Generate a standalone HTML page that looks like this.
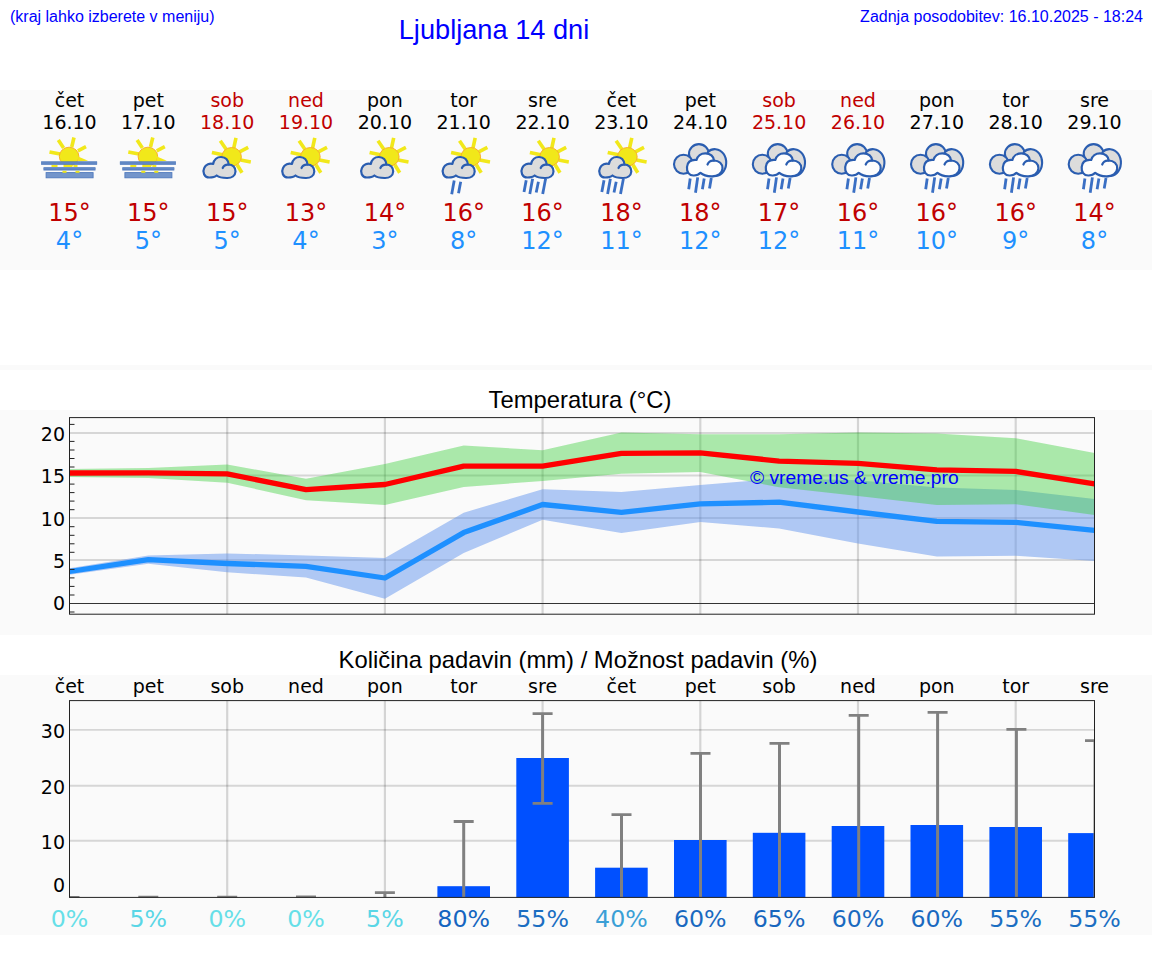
<!DOCTYPE html>
<html><head><meta charset="utf-8"><title>Ljubljana 14 dni</title>
<style>
html,body{margin:0;padding:0;background:#fff;}
body{width:1152px;height:975px;position:relative;overflow:hidden;font-family:"Liberation Sans",sans-serif;}
.t{position:absolute;white-space:nowrap;line-height:1;}
.b{color:#0000ff;}
svg text{font-family:"DejaVu Sans","Liberation Sans",sans-serif;}
</style></head><body>
<svg width="1152" height="975" viewBox="0 0 1152 975" style="position:absolute;left:0;top:0"><rect x="0" y="90" width="1152" height="180" fill="#fafafa"/>
<rect x="0" y="365" width="1152" height="5" fill="#fafafa"/>
<rect x="0" y="410" width="1152" height="225" fill="#fafafa"/>
<rect x="0" y="675" width="1152" height="260" fill="#fafafa"/>
<g font-size="19" text-anchor="middle" fill="#000">
<text x="69.5" y="106.8">čet</text><text x="69.5" y="128.8">16.10</text>
<text x="148.3" y="106.8">pet</text><text x="148.3" y="128.8">17.10</text>
<text x="227.2" y="106.8" fill="#c00000">sob</text><text x="227.2" y="128.8" fill="#c00000">18.10</text>
<text x="306.0" y="106.8" fill="#c00000">ned</text><text x="306.0" y="128.8" fill="#c00000">19.10</text>
<text x="384.9" y="106.8">pon</text><text x="384.9" y="128.8">20.10</text>
<text x="463.7" y="106.8">tor</text><text x="463.7" y="128.8">21.10</text>
<text x="542.6" y="106.8">sre</text><text x="542.6" y="128.8">22.10</text>
<text x="621.4" y="106.8">čet</text><text x="621.4" y="128.8">23.10</text>
<text x="700.3" y="106.8">pet</text><text x="700.3" y="128.8">24.10</text>
<text x="779.1" y="106.8" fill="#c00000">sob</text><text x="779.1" y="128.8" fill="#c00000">25.10</text>
<text x="858.0" y="106.8" fill="#c00000">ned</text><text x="858.0" y="128.8" fill="#c00000">26.10</text>
<text x="936.8" y="106.8">pon</text><text x="936.8" y="128.8">27.10</text>
<text x="1015.7" y="106.8">tor</text><text x="1015.7" y="128.8">28.10</text>
<text x="1094.5" y="106.8">sre</text><text x="1094.5" y="128.8">29.10</text>
</g>
<g font-size="24" text-anchor="middle" fill="#c00000">
<text x="69.5" y="221.3">15°</text>
<text x="148.3" y="221.3">15°</text>
<text x="227.2" y="221.3">15°</text>
<text x="306.0" y="221.3">13°</text>
<text x="384.9" y="221.3">14°</text>
<text x="463.7" y="221.3">16°</text>
<text x="542.6" y="221.3">16°</text>
<text x="621.4" y="221.3">18°</text>
<text x="700.3" y="221.3">18°</text>
<text x="779.1" y="221.3">17°</text>
<text x="858.0" y="221.3">16°</text>
<text x="936.8" y="221.3">16°</text>
<text x="1015.7" y="221.3">16°</text>
<text x="1094.5" y="221.3">14°</text>
</g>
<g font-size="24" text-anchor="middle" fill="#1e90ff">
<text x="69.5" y="249">4°</text>
<text x="148.3" y="249">5°</text>
<text x="227.2" y="249">5°</text>
<text x="306.0" y="249">4°</text>
<text x="384.9" y="249">3°</text>
<text x="463.7" y="249">8°</text>
<text x="542.6" y="249">12°</text>
<text x="621.4" y="249">11°</text>
<text x="700.3" y="249">12°</text>
<text x="779.1" y="249">12°</text>
<text x="858.0" y="249">11°</text>
<text x="936.8" y="249">10°</text>
<text x="1015.7" y="249">9°</text>
<text x="1094.5" y="249">8°</text>
</g>
<line x1="49.5" y1="151.9" x2="60.1" y2="154.0" stroke="#f1e81a" stroke-width="3.6"/><line x1="58.3" y1="139.9" x2="63.6" y2="148.0" stroke="#f1e81a" stroke-width="3.6"/><line x1="74.0" y1="137.5" x2="71.7" y2="147.0" stroke="#f1e81a" stroke-width="3.6"/><line x1="86.0" y1="146.7" x2="77.9" y2="150.8" stroke="#f1e81a" stroke-width="3.6"/><ellipse cx="69.1" cy="156.5" rx="9.8" ry="9.3" fill="#f1e81a" stroke="#f7a823" stroke-width="0.9"/><polygon points="78.1,156.5 88.1,160.8 78.1,161.5" fill="#f1e81a"/><rect x="41.1" y="161.3" width="56" height="3.5" fill="#4f79bd"/><rect x="41.1" y="162.4" width="56" height="1.2" fill="#6d90c8"/><rect x="43.5" y="167.2" width="52" height="3.3" fill="#4f79bd"/><rect x="43.5" y="168.3" width="52" height="1.1" fill="#6d90c8"/><rect x="46.1" y="172.6" width="47" height="5.2" fill="#7395cb" stroke="#4f79bd" stroke-width="0.9"/><rect x="51.5" y="165.0" width="6.0" height="2" fill="#f1e81a"/><rect x="63.5" y="165.0" width="9.0" height="2" fill="#f1e81a"/><rect x="73.5" y="165.0" width="4.0" height="2" fill="#f1e81a"/><rect x="62.5" y="170.8" width="4.0" height="2" fill="#f1e81a"/><rect x="75.5" y="170.8" width="4.0" height="2" fill="#f1e81a"/>
<line x1="128.3" y1="151.9" x2="138.9" y2="154.0" stroke="#f1e81a" stroke-width="3.6"/><line x1="137.1" y1="139.9" x2="142.4" y2="148.0" stroke="#f1e81a" stroke-width="3.6"/><line x1="152.8" y1="137.5" x2="150.5" y2="147.0" stroke="#f1e81a" stroke-width="3.6"/><line x1="164.8" y1="146.7" x2="156.7" y2="150.8" stroke="#f1e81a" stroke-width="3.6"/><ellipse cx="147.9" cy="156.5" rx="9.8" ry="9.3" fill="#f1e81a" stroke="#f7a823" stroke-width="0.9"/><polygon points="156.9,156.5 166.9,160.8 156.9,161.5" fill="#f1e81a"/><rect x="119.9" y="161.3" width="56" height="3.5" fill="#4f79bd"/><rect x="119.9" y="162.4" width="56" height="1.2" fill="#6d90c8"/><rect x="122.3" y="167.2" width="52" height="3.3" fill="#4f79bd"/><rect x="122.3" y="168.3" width="52" height="1.1" fill="#6d90c8"/><rect x="124.9" y="172.6" width="47" height="5.2" fill="#7395cb" stroke="#4f79bd" stroke-width="0.9"/><rect x="130.3" y="165.0" width="6.0" height="2" fill="#f1e81a"/><rect x="142.3" y="165.0" width="9.0" height="2" fill="#f1e81a"/><rect x="152.3" y="165.0" width="4.0" height="2" fill="#f1e81a"/><rect x="141.3" y="170.8" width="4.0" height="2" fill="#f1e81a"/><rect x="154.3" y="170.8" width="4.0" height="2" fill="#f1e81a"/>
<line x1="211.9" y1="152.4" x2="222.6" y2="154.8" stroke="#f1e81a" stroke-width="3.6"/><line x1="220.3" y1="140.8" x2="226.1" y2="149.3" stroke="#f1e81a" stroke-width="3.6"/><line x1="236.0" y1="137.8" x2="233.8" y2="147.8" stroke="#f1e81a" stroke-width="3.6"/><line x1="248.2" y1="147.4" x2="239.6" y2="151.8" stroke="#f1e81a" stroke-width="3.6"/><line x1="250.8" y1="162.0" x2="240.6" y2="160.1" stroke="#f1e81a" stroke-width="3.6"/><line x1="242.0" y1="172.8" x2="237.1" y2="164.8" stroke="#f1e81a" stroke-width="3.6"/><ellipse cx="231.6" cy="156.8" rx="9.8" ry="9.3" fill="#f1e81a" stroke="#f7a823" stroke-width="0.9"/><g transform="translate(202.7,156.0)"><path d="M6.5,21.5 C1.5,21.5 -0.5,16 1.5,12 C3,8.5 7,7 10.5,8 C11,3.5 14.5,0.8 18.5,1 C22.5,1.2 25.5,4 26,8.5 C30,8.5 33,11.5 32.8,15.5 C32.6,19.8 29,22.2 24,22 C20,22 16.5,21.5 14,19.5 C12,21.3 9.5,21.5 6.5,21.5 Z" fill="#dcdcdc" stroke="#2a5db0" stroke-width="2.2" stroke-linejoin="round"/><path d="M26,8.6 C23.5,8.4 21,9.6 20,12" fill="none" stroke="#2a5db0" stroke-width="2.2" stroke-linecap="round"/></g>
<line x1="290.7" y1="152.4" x2="301.4" y2="154.8" stroke="#f1e81a" stroke-width="3.6"/><line x1="299.1" y1="140.8" x2="304.9" y2="149.3" stroke="#f1e81a" stroke-width="3.6"/><line x1="314.8" y1="137.8" x2="312.6" y2="147.8" stroke="#f1e81a" stroke-width="3.6"/><line x1="327.0" y1="147.4" x2="318.4" y2="151.8" stroke="#f1e81a" stroke-width="3.6"/><line x1="329.6" y1="162.0" x2="319.4" y2="160.1" stroke="#f1e81a" stroke-width="3.6"/><line x1="320.8" y1="172.8" x2="315.9" y2="164.8" stroke="#f1e81a" stroke-width="3.6"/><ellipse cx="310.4" cy="156.8" rx="9.8" ry="9.3" fill="#f1e81a" stroke="#f7a823" stroke-width="0.9"/><g transform="translate(281.5,156.0)"><path d="M6.5,21.5 C1.5,21.5 -0.5,16 1.5,12 C3,8.5 7,7 10.5,8 C11,3.5 14.5,0.8 18.5,1 C22.5,1.2 25.5,4 26,8.5 C30,8.5 33,11.5 32.8,15.5 C32.6,19.8 29,22.2 24,22 C20,22 16.5,21.5 14,19.5 C12,21.3 9.5,21.5 6.5,21.5 Z" fill="#dcdcdc" stroke="#2a5db0" stroke-width="2.2" stroke-linejoin="round"/><path d="M26,8.6 C23.5,8.4 21,9.6 20,12" fill="none" stroke="#2a5db0" stroke-width="2.2" stroke-linecap="round"/></g>
<line x1="369.6" y1="152.4" x2="380.3" y2="154.8" stroke="#f1e81a" stroke-width="3.6"/><line x1="378.0" y1="140.8" x2="383.8" y2="149.3" stroke="#f1e81a" stroke-width="3.6"/><line x1="393.7" y1="137.8" x2="391.5" y2="147.8" stroke="#f1e81a" stroke-width="3.6"/><line x1="405.9" y1="147.4" x2="397.3" y2="151.8" stroke="#f1e81a" stroke-width="3.6"/><line x1="408.5" y1="162.0" x2="398.3" y2="160.1" stroke="#f1e81a" stroke-width="3.6"/><line x1="399.7" y1="172.8" x2="394.8" y2="164.8" stroke="#f1e81a" stroke-width="3.6"/><ellipse cx="389.3" cy="156.8" rx="9.8" ry="9.3" fill="#f1e81a" stroke="#f7a823" stroke-width="0.9"/><g transform="translate(360.4,156.0)"><path d="M6.5,21.5 C1.5,21.5 -0.5,16 1.5,12 C3,8.5 7,7 10.5,8 C11,3.5 14.5,0.8 18.5,1 C22.5,1.2 25.5,4 26,8.5 C30,8.5 33,11.5 32.8,15.5 C32.6,19.8 29,22.2 24,22 C20,22 16.5,21.5 14,19.5 C12,21.3 9.5,21.5 6.5,21.5 Z" fill="#dcdcdc" stroke="#2a5db0" stroke-width="2.2" stroke-linejoin="round"/><path d="M26,8.6 C23.5,8.4 21,9.6 20,12" fill="none" stroke="#2a5db0" stroke-width="2.2" stroke-linecap="round"/></g>
<line x1="451.1" y1="152.4" x2="461.8" y2="154.8" stroke="#f1e81a" stroke-width="3.6"/><line x1="459.5" y1="140.8" x2="465.3" y2="149.3" stroke="#f1e81a" stroke-width="3.6"/><line x1="475.2" y1="137.8" x2="473.0" y2="147.8" stroke="#f1e81a" stroke-width="3.6"/><line x1="487.4" y1="147.4" x2="478.8" y2="151.8" stroke="#f1e81a" stroke-width="3.6"/><line x1="490.0" y1="162.0" x2="479.8" y2="160.1" stroke="#f1e81a" stroke-width="3.6"/><line x1="481.2" y1="172.8" x2="476.3" y2="164.8" stroke="#f1e81a" stroke-width="3.6"/><ellipse cx="470.8" cy="156.8" rx="9.8" ry="9.3" fill="#f1e81a" stroke="#f7a823" stroke-width="0.9"/><g transform="translate(441.9,156.0)"><path d="M6.5,21.5 C1.5,21.5 -0.5,16 1.5,12 C3,8.5 7,7 10.5,8 C11,3.5 14.5,0.8 18.5,1 C22.5,1.2 25.5,4 26,8.5 C30,8.5 33,11.5 32.8,15.5 C32.6,19.8 29,22.2 24,22 C20,22 16.5,21.5 14,19.5 C12,21.3 9.5,21.5 6.5,21.5 Z" fill="#dcdcdc" stroke="#2a5db0" stroke-width="2.2" stroke-linejoin="round"/><path d="M26,8.6 C23.5,8.4 21,9.6 20,12" fill="none" stroke="#2a5db0" stroke-width="2.2" stroke-linecap="round"/></g><line x1="454.2" y1="180.6" x2="451.7" y2="194.3" stroke="#3a6fc4" stroke-width="2.8"/><line x1="460.7" y1="181.7" x2="458.5" y2="193.2" stroke="#3a6fc4" stroke-width="2.8"/>
<line x1="529.9" y1="152.4" x2="540.6" y2="154.8" stroke="#f1e81a" stroke-width="3.6"/><line x1="538.3" y1="140.8" x2="544.1" y2="149.3" stroke="#f1e81a" stroke-width="3.6"/><line x1="554.0" y1="137.8" x2="551.8" y2="147.8" stroke="#f1e81a" stroke-width="3.6"/><line x1="566.2" y1="147.4" x2="557.6" y2="151.8" stroke="#f1e81a" stroke-width="3.6"/><line x1="568.8" y1="162.0" x2="558.6" y2="160.1" stroke="#f1e81a" stroke-width="3.6"/><line x1="560.0" y1="172.8" x2="555.1" y2="164.8" stroke="#f1e81a" stroke-width="3.6"/><ellipse cx="549.6" cy="156.8" rx="9.8" ry="9.3" fill="#f1e81a" stroke="#f7a823" stroke-width="0.9"/><g transform="translate(520.7,156.0)"><path d="M6.5,21.5 C1.5,21.5 -0.5,16 1.5,12 C3,8.5 7,7 10.5,8 C11,3.5 14.5,0.8 18.5,1 C22.5,1.2 25.5,4 26,8.5 C30,8.5 33,11.5 32.8,15.5 C32.6,19.8 29,22.2 24,22 C20,22 16.5,21.5 14,19.5 C12,21.3 9.5,21.5 6.5,21.5 Z" fill="#dcdcdc" stroke="#2a5db0" stroke-width="2.2" stroke-linejoin="round"/><path d="M26,8.6 C23.5,8.4 21,9.6 20,12" fill="none" stroke="#2a5db0" stroke-width="2.2" stroke-linecap="round"/></g><line x1="526.2" y1="180.3" x2="524.0" y2="192.1" stroke="#3a6fc4" stroke-width="2.8"/><line x1="532.6" y1="178.8" x2="529.8" y2="193.9" stroke="#3a6fc4" stroke-width="2.8"/><line x1="538.4" y1="181.7" x2="536.2" y2="192.5" stroke="#3a6fc4" stroke-width="2.8"/><line x1="545.6" y1="178.8" x2="542.7" y2="193.9" stroke="#3a6fc4" stroke-width="2.8"/>
<line x1="607.7" y1="152.4" x2="618.4" y2="154.8" stroke="#f1e81a" stroke-width="3.6"/><line x1="616.1" y1="140.8" x2="621.9" y2="149.3" stroke="#f1e81a" stroke-width="3.6"/><line x1="631.8" y1="137.8" x2="629.6" y2="147.8" stroke="#f1e81a" stroke-width="3.6"/><line x1="644.0" y1="147.4" x2="635.4" y2="151.8" stroke="#f1e81a" stroke-width="3.6"/><line x1="646.6" y1="162.0" x2="636.4" y2="160.1" stroke="#f1e81a" stroke-width="3.6"/><line x1="637.8" y1="172.8" x2="632.9" y2="164.8" stroke="#f1e81a" stroke-width="3.6"/><ellipse cx="627.4" cy="156.8" rx="9.8" ry="9.3" fill="#f1e81a" stroke="#f7a823" stroke-width="0.9"/><g transform="translate(598.5,156.0)"><path d="M6.5,21.5 C1.5,21.5 -0.5,16 1.5,12 C3,8.5 7,7 10.5,8 C11,3.5 14.5,0.8 18.5,1 C22.5,1.2 25.5,4 26,8.5 C30,8.5 33,11.5 32.8,15.5 C32.6,19.8 29,22.2 24,22 C20,22 16.5,21.5 14,19.5 C12,21.3 9.5,21.5 6.5,21.5 Z" fill="#dcdcdc" stroke="#2a5db0" stroke-width="2.2" stroke-linejoin="round"/><path d="M26,8.6 C23.5,8.4 21,9.6 20,12" fill="none" stroke="#2a5db0" stroke-width="2.2" stroke-linecap="round"/></g><line x1="604.0" y1="180.3" x2="601.8" y2="192.1" stroke="#3a6fc4" stroke-width="2.8"/><line x1="610.4" y1="178.8" x2="607.6" y2="193.9" stroke="#3a6fc4" stroke-width="2.8"/><line x1="616.2" y1="181.7" x2="614.0" y2="192.5" stroke="#3a6fc4" stroke-width="2.8"/><line x1="623.4" y1="178.8" x2="620.5" y2="193.9" stroke="#3a6fc4" stroke-width="2.8"/>
<g transform="translate(-0.0,0)"><ellipse cx="698.9" cy="153.7" rx="9.9" ry="9.6" fill="#dcdcdc" stroke="#2a5db0" stroke-width="2.1"/><ellipse cx="683.5" cy="164.2" rx="9.5" ry="9.5" fill="#dcdcdc" stroke="#2a5db0" stroke-width="2.1"/><path d="M708,152 C712,147.6 719.5,148.4 723.4,153.6 C727.5,159 727.2,168.2 722,173.3 C719,176 716,176.6 712,176.2 L700,170 Z" fill="#dcdcdc" stroke="#2a5db0" stroke-width="2.1" stroke-linejoin="round"/><path d="M694,175.5 C689,175.8 686.5,171.5 687,167 C687.5,162 691,159.5 696.5,160 C697.5,156 701,153.2 705.5,153.3 C710.5,153.5 713.5,156.5 714,160.5 C719,160.5 722.8,164 722.5,168.5 C722.2,173.5 717.5,176.5 711.5,176.3 C706.5,176.2 703,175 700.5,172.8 C699,174.5 696.8,175.4 694,175.5 Z" fill="#fdfdfd" stroke="#2a5db0" stroke-width="2.2" stroke-linejoin="round"/><path d="M714,160.6 C711,160.3 708.5,161.8 707.5,164.5" fill="none" stroke="#2a5db0" stroke-width="2.2" stroke-linecap="round"/><line x1="690.2" y1="178.5" x2="688.7" y2="189.2" stroke="#3a6fc4" stroke-width="2.8"/><line x1="697.7" y1="177.4" x2="695.5" y2="192.8" stroke="#3a6fc4" stroke-width="2.8"/><line x1="704.2" y1="178.5" x2="702.4" y2="189.2" stroke="#3a6fc4" stroke-width="2.8"/><line x1="711.3" y1="178.1" x2="709.5" y2="188.5" stroke="#3a6fc4" stroke-width="2.8"/></g>
<g transform="translate(78.8,0)"><ellipse cx="698.9" cy="153.7" rx="9.9" ry="9.6" fill="#dcdcdc" stroke="#2a5db0" stroke-width="2.1"/><ellipse cx="683.5" cy="164.2" rx="9.5" ry="9.5" fill="#dcdcdc" stroke="#2a5db0" stroke-width="2.1"/><path d="M708,152 C712,147.6 719.5,148.4 723.4,153.6 C727.5,159 727.2,168.2 722,173.3 C719,176 716,176.6 712,176.2 L700,170 Z" fill="#dcdcdc" stroke="#2a5db0" stroke-width="2.1" stroke-linejoin="round"/><path d="M694,175.5 C689,175.8 686.5,171.5 687,167 C687.5,162 691,159.5 696.5,160 C697.5,156 701,153.2 705.5,153.3 C710.5,153.5 713.5,156.5 714,160.5 C719,160.5 722.8,164 722.5,168.5 C722.2,173.5 717.5,176.5 711.5,176.3 C706.5,176.2 703,175 700.5,172.8 C699,174.5 696.8,175.4 694,175.5 Z" fill="#fdfdfd" stroke="#2a5db0" stroke-width="2.2" stroke-linejoin="round"/><path d="M714,160.6 C711,160.3 708.5,161.8 707.5,164.5" fill="none" stroke="#2a5db0" stroke-width="2.2" stroke-linecap="round"/><line x1="690.2" y1="178.5" x2="688.7" y2="189.2" stroke="#3a6fc4" stroke-width="2.8"/><line x1="697.7" y1="177.4" x2="695.5" y2="192.8" stroke="#3a6fc4" stroke-width="2.8"/><line x1="704.2" y1="178.5" x2="702.4" y2="189.2" stroke="#3a6fc4" stroke-width="2.8"/><line x1="711.3" y1="178.1" x2="709.5" y2="188.5" stroke="#3a6fc4" stroke-width="2.8"/></g>
<g transform="translate(158.2,0)"><ellipse cx="698.9" cy="153.7" rx="9.9" ry="9.6" fill="#dcdcdc" stroke="#2a5db0" stroke-width="2.1"/><ellipse cx="683.5" cy="164.2" rx="9.5" ry="9.5" fill="#dcdcdc" stroke="#2a5db0" stroke-width="2.1"/><path d="M708,152 C712,147.6 719.5,148.4 723.4,153.6 C727.5,159 727.2,168.2 722,173.3 C719,176 716,176.6 712,176.2 L700,170 Z" fill="#dcdcdc" stroke="#2a5db0" stroke-width="2.1" stroke-linejoin="round"/><path d="M694,175.5 C689,175.8 686.5,171.5 687,167 C687.5,162 691,159.5 696.5,160 C697.5,156 701,153.2 705.5,153.3 C710.5,153.5 713.5,156.5 714,160.5 C719,160.5 722.8,164 722.5,168.5 C722.2,173.5 717.5,176.5 711.5,176.3 C706.5,176.2 703,175 700.5,172.8 C699,174.5 696.8,175.4 694,175.5 Z" fill="#fdfdfd" stroke="#2a5db0" stroke-width="2.2" stroke-linejoin="round"/><path d="M714,160.6 C711,160.3 708.5,161.8 707.5,164.5" fill="none" stroke="#2a5db0" stroke-width="2.2" stroke-linecap="round"/><line x1="690.2" y1="178.5" x2="688.7" y2="189.2" stroke="#3a6fc4" stroke-width="2.8"/><line x1="697.7" y1="177.4" x2="695.5" y2="192.8" stroke="#3a6fc4" stroke-width="2.8"/><line x1="704.2" y1="178.5" x2="702.4" y2="189.2" stroke="#3a6fc4" stroke-width="2.8"/><line x1="711.3" y1="178.1" x2="709.5" y2="188.5" stroke="#3a6fc4" stroke-width="2.8"/></g>
<g transform="translate(237.0,0)"><ellipse cx="698.9" cy="153.7" rx="9.9" ry="9.6" fill="#dcdcdc" stroke="#2a5db0" stroke-width="2.1"/><ellipse cx="683.5" cy="164.2" rx="9.5" ry="9.5" fill="#dcdcdc" stroke="#2a5db0" stroke-width="2.1"/><path d="M708,152 C712,147.6 719.5,148.4 723.4,153.6 C727.5,159 727.2,168.2 722,173.3 C719,176 716,176.6 712,176.2 L700,170 Z" fill="#dcdcdc" stroke="#2a5db0" stroke-width="2.1" stroke-linejoin="round"/><path d="M694,175.5 C689,175.8 686.5,171.5 687,167 C687.5,162 691,159.5 696.5,160 C697.5,156 701,153.2 705.5,153.3 C710.5,153.5 713.5,156.5 714,160.5 C719,160.5 722.8,164 722.5,168.5 C722.2,173.5 717.5,176.5 711.5,176.3 C706.5,176.2 703,175 700.5,172.8 C699,174.5 696.8,175.4 694,175.5 Z" fill="#fdfdfd" stroke="#2a5db0" stroke-width="2.2" stroke-linejoin="round"/><path d="M714,160.6 C711,160.3 708.5,161.8 707.5,164.5" fill="none" stroke="#2a5db0" stroke-width="2.2" stroke-linecap="round"/><line x1="690.2" y1="178.5" x2="688.7" y2="189.2" stroke="#3a6fc4" stroke-width="2.8"/><line x1="697.7" y1="177.4" x2="695.5" y2="192.8" stroke="#3a6fc4" stroke-width="2.8"/><line x1="704.2" y1="178.5" x2="702.4" y2="189.2" stroke="#3a6fc4" stroke-width="2.8"/><line x1="711.3" y1="178.1" x2="709.5" y2="188.5" stroke="#3a6fc4" stroke-width="2.8"/></g>
<g transform="translate(315.9,0)"><ellipse cx="698.9" cy="153.7" rx="9.9" ry="9.6" fill="#dcdcdc" stroke="#2a5db0" stroke-width="2.1"/><ellipse cx="683.5" cy="164.2" rx="9.5" ry="9.5" fill="#dcdcdc" stroke="#2a5db0" stroke-width="2.1"/><path d="M708,152 C712,147.6 719.5,148.4 723.4,153.6 C727.5,159 727.2,168.2 722,173.3 C719,176 716,176.6 712,176.2 L700,170 Z" fill="#dcdcdc" stroke="#2a5db0" stroke-width="2.1" stroke-linejoin="round"/><path d="M694,175.5 C689,175.8 686.5,171.5 687,167 C687.5,162 691,159.5 696.5,160 C697.5,156 701,153.2 705.5,153.3 C710.5,153.5 713.5,156.5 714,160.5 C719,160.5 722.8,164 722.5,168.5 C722.2,173.5 717.5,176.5 711.5,176.3 C706.5,176.2 703,175 700.5,172.8 C699,174.5 696.8,175.4 694,175.5 Z" fill="#fdfdfd" stroke="#2a5db0" stroke-width="2.2" stroke-linejoin="round"/><path d="M714,160.6 C711,160.3 708.5,161.8 707.5,164.5" fill="none" stroke="#2a5db0" stroke-width="2.2" stroke-linecap="round"/><line x1="690.2" y1="178.5" x2="688.7" y2="189.2" stroke="#3a6fc4" stroke-width="2.8"/><line x1="697.7" y1="177.4" x2="695.5" y2="192.8" stroke="#3a6fc4" stroke-width="2.8"/><line x1="704.2" y1="178.5" x2="702.4" y2="189.2" stroke="#3a6fc4" stroke-width="2.8"/><line x1="711.3" y1="178.1" x2="709.5" y2="188.5" stroke="#3a6fc4" stroke-width="2.8"/></g>
<g transform="translate(394.7,0)"><ellipse cx="698.9" cy="153.7" rx="9.9" ry="9.6" fill="#dcdcdc" stroke="#2a5db0" stroke-width="2.1"/><ellipse cx="683.5" cy="164.2" rx="9.5" ry="9.5" fill="#dcdcdc" stroke="#2a5db0" stroke-width="2.1"/><path d="M708,152 C712,147.6 719.5,148.4 723.4,153.6 C727.5,159 727.2,168.2 722,173.3 C719,176 716,176.6 712,176.2 L700,170 Z" fill="#dcdcdc" stroke="#2a5db0" stroke-width="2.1" stroke-linejoin="round"/><path d="M694,175.5 C689,175.8 686.5,171.5 687,167 C687.5,162 691,159.5 696.5,160 C697.5,156 701,153.2 705.5,153.3 C710.5,153.5 713.5,156.5 714,160.5 C719,160.5 722.8,164 722.5,168.5 C722.2,173.5 717.5,176.5 711.5,176.3 C706.5,176.2 703,175 700.5,172.8 C699,174.5 696.8,175.4 694,175.5 Z" fill="#fdfdfd" stroke="#2a5db0" stroke-width="2.2" stroke-linejoin="round"/><path d="M714,160.6 C711,160.3 708.5,161.8 707.5,164.5" fill="none" stroke="#2a5db0" stroke-width="2.2" stroke-linecap="round"/><line x1="690.2" y1="178.5" x2="688.7" y2="189.2" stroke="#3a6fc4" stroke-width="2.8"/><line x1="697.7" y1="177.4" x2="695.5" y2="192.8" stroke="#3a6fc4" stroke-width="2.8"/><line x1="704.2" y1="178.5" x2="702.4" y2="189.2" stroke="#3a6fc4" stroke-width="2.8"/><line x1="711.3" y1="178.1" x2="709.5" y2="188.5" stroke="#3a6fc4" stroke-width="2.8"/></g>
<clipPath id="c2"><rect x="69.5" y="417.6" width="1025.0" height="196.6"/></clipPath>
<g clip-path="url(#c2)">
<line x1="69.5" x2="1094.5" y1="560.0" y2="560.0" stroke="rgba(0,0,0,0.14)" stroke-width="1.9"/>
<line x1="69.5" x2="1094.5" y1="518.0" y2="518.0" stroke="rgba(0,0,0,0.14)" stroke-width="1.9"/>
<line x1="69.5" x2="1094.5" y1="475.5" y2="475.5" stroke="rgba(0,0,0,0.14)" stroke-width="1.9"/>
<line x1="69.5" x2="1094.5" y1="433.0" y2="433.0" stroke="rgba(0,0,0,0.14)" stroke-width="1.9"/>
<line x1="227.2" x2="227.2" y1="417.6" y2="614.2" stroke="rgba(0,0,0,0.15)" stroke-width="2.2"/>
<line x1="384.9" x2="384.9" y1="417.6" y2="614.2" stroke="rgba(0,0,0,0.15)" stroke-width="2.2"/>
<line x1="542.6" x2="542.6" y1="417.6" y2="614.2" stroke="rgba(0,0,0,0.15)" stroke-width="2.2"/>
<line x1="700.3" x2="700.3" y1="417.6" y2="614.2" stroke="rgba(0,0,0,0.15)" stroke-width="2.2"/>
<line x1="858.0" x2="858.0" y1="417.6" y2="614.2" stroke="rgba(0,0,0,0.15)" stroke-width="2.2"/>
<line x1="1015.7" x2="1015.7" y1="417.6" y2="614.2" stroke="rgba(0,0,0,0.15)" stroke-width="2.2"/>
<line x1="69.5" x2="1094.5" y1="603.5" y2="603.5" stroke="#333" stroke-width="1"/>
<polygon points="69.5,568.3 148.3,555.6 227.2,553.4 306.0,555.5 384.9,558.1 463.7,512.7 542.6,489.2 621.4,492.0 700.3,485.0 779.1,478.6 858.0,480.3 936.8,487.5 1015.7,490.0 1094.5,499.1 1094.5,560.9 1015.7,555.8 936.8,556.5 858.0,543.6 779.1,528.4 700.3,522.0 621.4,533.0 542.6,519.7 463.7,553.0 384.9,598.7 306.0,577.6 227.2,572.2 148.3,563.7 69.5,574.7" fill="#6495ed" fill-opacity="0.5"/>
<polygon points="69.5,468.9 148.3,468.0 227.2,464.4 306.0,478.7 384.9,463.9 463.7,445.6 542.6,450.3 621.4,432.6 700.3,434.2 779.1,434.3 858.0,432.6 936.8,433.6 1015.7,438.2 1094.5,453.0 1094.5,515.0 1015.7,504.2 936.8,504.9 858.0,496.0 779.1,487.2 700.3,472.1 621.4,473.8 542.6,481.0 463.7,486.9 384.9,504.9 306.0,500.2 227.2,482.7 148.3,478.0 69.5,477.1" fill="#32cd32" fill-opacity="0.4"/>
<polyline points="69.5,473.0 148.3,472.8 227.2,473.8 306.0,489.7 384.9,484.5 463.7,466.2 542.6,466.2 621.4,453.4 700.3,452.9 779.1,461.1 858.0,463.4 936.8,469.8 1015.7,471.4 1094.5,483.8" fill="none" stroke="#ff0000" stroke-width="5.3" stroke-linejoin="round"/>
<polyline points="69.5,571.5 148.3,559.7 227.2,563.5 306.0,566.3 384.9,578.0 463.7,532.6 542.6,504.5 621.4,512.4 700.3,503.8 779.1,502.2 858.0,512.0 936.8,521.3 1015.7,522.3 1094.5,530.3" fill="none" stroke="#1e90ff" stroke-width="5.3" stroke-linejoin="round"/>
</g>
<line x1="69.5" x2="74.5" y1="612.0" y2="612.0" stroke="#222" stroke-width="1"/>
<line x1="69.5" x2="74.5" y1="595.0" y2="595.0" stroke="#222" stroke-width="1"/>
<line x1="69.5" x2="74.5" y1="586.4" y2="586.4" stroke="#222" stroke-width="1"/>
<line x1="69.5" x2="74.5" y1="577.9" y2="577.9" stroke="#222" stroke-width="1"/>
<line x1="69.5" x2="74.5" y1="569.4" y2="569.4" stroke="#222" stroke-width="1"/>
<line x1="69.5" x2="74.5" y1="552.3" y2="552.3" stroke="#222" stroke-width="1"/>
<line x1="69.5" x2="74.5" y1="543.8" y2="543.8" stroke="#222" stroke-width="1"/>
<line x1="69.5" x2="74.5" y1="535.3" y2="535.3" stroke="#222" stroke-width="1"/>
<line x1="69.5" x2="74.5" y1="526.7" y2="526.7" stroke="#222" stroke-width="1"/>
<line x1="69.5" x2="74.5" y1="509.7" y2="509.7" stroke="#222" stroke-width="1"/>
<line x1="69.5" x2="74.5" y1="501.1" y2="501.1" stroke="#222" stroke-width="1"/>
<line x1="69.5" x2="74.5" y1="492.6" y2="492.6" stroke="#222" stroke-width="1"/>
<line x1="69.5" x2="74.5" y1="484.1" y2="484.1" stroke="#222" stroke-width="1"/>
<line x1="69.5" x2="74.5" y1="467.0" y2="467.0" stroke="#222" stroke-width="1"/>
<line x1="69.5" x2="74.5" y1="458.5" y2="458.5" stroke="#222" stroke-width="1"/>
<line x1="69.5" x2="74.5" y1="450.0" y2="450.0" stroke="#222" stroke-width="1"/>
<line x1="69.5" x2="74.5" y1="441.4" y2="441.4" stroke="#222" stroke-width="1"/>
<line x1="69.5" x2="74.5" y1="424.4" y2="424.4" stroke="#222" stroke-width="1"/>
<rect x="69.5" y="417.6" width="1025.0" height="196.6" fill="none" stroke="#222" stroke-width="1"/>
<g font-size="19" text-anchor="end" fill="#000">
<text x="65" y="610">0</text>
<text x="65" y="567.6">5</text>
<text x="65" y="526.2">10</text>
<text x="65" y="483">15</text>
<text x="65" y="441">20</text>
</g>
<clipPath id="c3"><rect x="69.5" y="700.6" width="1025.0" height="196.8"/></clipPath>
<g clip-path="url(#c3)">
<line x1="69.5" x2="1094.5" y1="840.8" y2="840.8" stroke="rgba(0,0,0,0.14)" stroke-width="1.9"/>
<line x1="69.5" x2="1094.5" y1="785.8" y2="785.8" stroke="rgba(0,0,0,0.14)" stroke-width="1.9"/>
<line x1="69.5" x2="1094.5" y1="729.9" y2="729.9" stroke="rgba(0,0,0,0.14)" stroke-width="1.9"/>
<line x1="227.2" x2="227.2" y1="700.6" y2="897.4" stroke="rgba(0,0,0,0.15)" stroke-width="2.2"/>
<line x1="384.9" x2="384.9" y1="700.6" y2="897.4" stroke="rgba(0,0,0,0.15)" stroke-width="2.2"/>
<line x1="542.6" x2="542.6" y1="700.6" y2="897.4" stroke="rgba(0,0,0,0.15)" stroke-width="2.2"/>
<line x1="700.3" x2="700.3" y1="700.6" y2="897.4" stroke="rgba(0,0,0,0.15)" stroke-width="2.2"/>
<line x1="858.0" x2="858.0" y1="700.6" y2="897.4" stroke="rgba(0,0,0,0.15)" stroke-width="2.2"/>
<line x1="1015.7" x2="1015.7" y1="700.6" y2="897.4" stroke="rgba(0,0,0,0.15)" stroke-width="2.2"/>
<rect x="437.4" y="886.2" width="52.6" height="12.2" fill="#0050ff"/>
<rect x="516.3" y="758.0" width="52.6" height="140.4" fill="#0050ff"/>
<rect x="595.1" y="867.7" width="52.6" height="30.7" fill="#0050ff"/>
<rect x="674.0" y="840.0" width="52.6" height="58.4" fill="#0050ff"/>
<rect x="752.8" y="832.8" width="52.6" height="65.6" fill="#0050ff"/>
<rect x="831.7" y="826.0" width="52.6" height="72.4" fill="#0050ff"/>
<rect x="910.5" y="825.0" width="52.6" height="73.4" fill="#0050ff"/>
<rect x="989.4" y="827.0" width="52.6" height="71.4" fill="#0050ff"/>
<rect x="1068.2" y="833.1" width="52.6" height="65.3" fill="#0050ff"/>
<line x1="69.5" x2="69.5" y1="897.4" y2="897.4" stroke="#808080" stroke-width="3"/>
<line x1="59.5" x2="79.5" y1="897.4" y2="897.4" stroke="#808080" stroke-width="2.8"/>
<line x1="148.3" x2="148.3" y1="897.2" y2="897.4" stroke="#808080" stroke-width="3"/>
<line x1="138.3" x2="158.3" y1="897.2" y2="897.2" stroke="#808080" stroke-width="2.8"/>
<line x1="227.2" x2="227.2" y1="897.2" y2="897.4" stroke="#808080" stroke-width="3"/>
<line x1="217.2" x2="237.2" y1="897.2" y2="897.2" stroke="#808080" stroke-width="2.8"/>
<line x1="306.0" x2="306.0" y1="897.0" y2="897.4" stroke="#808080" stroke-width="3"/>
<line x1="296.0" x2="316.0" y1="897.0" y2="897.0" stroke="#808080" stroke-width="2.8"/>
<line x1="384.9" x2="384.9" y1="892.6" y2="897.4" stroke="#808080" stroke-width="3"/>
<line x1="374.9" x2="394.9" y1="892.6" y2="892.6" stroke="#808080" stroke-width="2.8"/>
<line x1="463.7" x2="463.7" y1="821.5" y2="897.4" stroke="#808080" stroke-width="3"/>
<line x1="453.7" x2="473.7" y1="821.5" y2="821.5" stroke="#808080" stroke-width="2.8"/>
<line x1="542.6" x2="542.6" y1="713.6" y2="803.3" stroke="#808080" stroke-width="3"/>
<line x1="532.6" x2="552.6" y1="713.6" y2="713.6" stroke="#808080" stroke-width="2.8"/>
<line x1="532.6" x2="552.6" y1="803.3" y2="803.3" stroke="#808080" stroke-width="2.8"/>
<line x1="621.5" x2="621.5" y1="814.6" y2="897.4" stroke="#808080" stroke-width="3"/>
<line x1="611.5" x2="631.5" y1="814.6" y2="814.6" stroke="#808080" stroke-width="2.8"/>
<line x1="700.5" x2="700.5" y1="753.3" y2="897.4" stroke="#808080" stroke-width="3"/>
<line x1="690.5" x2="710.5" y1="753.3" y2="753.3" stroke="#808080" stroke-width="2.8"/>
<line x1="779.5" x2="779.5" y1="743.3" y2="897.4" stroke="#808080" stroke-width="3"/>
<line x1="769.5" x2="789.5" y1="743.3" y2="743.3" stroke="#808080" stroke-width="2.8"/>
<line x1="858.7" x2="858.7" y1="715.4" y2="897.4" stroke="#808080" stroke-width="3"/>
<line x1="848.7" x2="868.7" y1="715.4" y2="715.4" stroke="#808080" stroke-width="2.8"/>
<line x1="937.6" x2="937.6" y1="712.4" y2="897.4" stroke="#808080" stroke-width="3"/>
<line x1="927.6" x2="947.6" y1="712.4" y2="712.4" stroke="#808080" stroke-width="2.8"/>
<line x1="1016.4" x2="1016.4" y1="729.4" y2="897.4" stroke="#808080" stroke-width="3"/>
<line x1="1006.4" x2="1026.4" y1="729.4" y2="729.4" stroke="#808080" stroke-width="2.8"/>
<line x1="1095.0" x2="1095.0" y1="740.6" y2="897.4" stroke="#808080" stroke-width="3"/>
<line x1="1085.0" x2="1105.0" y1="740.6" y2="740.6" stroke="#808080" stroke-width="2.8"/>
</g>
<rect x="69.5" y="700.6" width="1025.0" height="196.8" fill="none" stroke="#222" stroke-width="1"/>
<g font-size="19" text-anchor="end" fill="#000">
<text x="65" y="737.9">30</text>
<text x="65" y="793.8">20</text>
<text x="65" y="848.8">10</text>
<text x="65" y="892.4">0</text>
</g>
<g font-size="19" text-anchor="middle" fill="#000">
<text x="69.5" y="692.5">čet</text>
<text x="148.3" y="692.5">pet</text>
<text x="227.2" y="692.5">sob</text>
<text x="306.0" y="692.5">ned</text>
<text x="384.9" y="692.5">pon</text>
<text x="463.7" y="692.5">tor</text>
<text x="542.6" y="692.5">sre</text>
<text x="621.4" y="692.5">čet</text>
<text x="700.3" y="692.5">pet</text>
<text x="779.1" y="692.5">sob</text>
<text x="858.0" y="692.5">ned</text>
<text x="936.8" y="692.5">pon</text>
<text x="1015.7" y="692.5">tor</text>
<text x="1094.5" y="692.5">sre</text>
</g>
<g font-size="23.7" text-anchor="middle">
<text x="69.5" y="926.7" fill="#66dfe8">0%</text>
<text x="148.3" y="926.7" fill="#5ad6e6">5%</text>
<text x="227.2" y="926.7" fill="#66dfe8">0%</text>
<text x="306.0" y="926.7" fill="#66dfe8">0%</text>
<text x="384.9" y="926.7" fill="#5ad6e6">5%</text>
<text x="463.7" y="926.7" fill="#1565c0">80%</text>
<text x="542.6" y="926.7" fill="#1b6ec2">55%</text>
<text x="621.4" y="926.7" fill="#3a9fd6">40%</text>
<text x="700.3" y="926.7" fill="#1969c0">60%</text>
<text x="779.1" y="926.7" fill="#1766be">65%</text>
<text x="858.0" y="926.7" fill="#1969c0">60%</text>
<text x="936.8" y="926.7" fill="#1969c0">60%</text>
<text x="1015.7" y="926.7" fill="#1b6ec2">55%</text>
<text x="1094.5" y="926.7" fill="#1b6ec2">55%</text>
</g></svg>
<div class="t b" style="left:10px;top:9px;font-size:16px;">(kraj lahko izberete v meniju)</div>
<div class="t b" style="left:0;width:988px;text-align:center;top:16.4px;font-size:27.2px;">Ljubljana 14 dni</div>
<div class="t b" style="right:9px;top:9px;font-size:16px;">Zadnja posodobitev: 16.10.2025 - 18:24</div>
<div class="t" style="left:0;width:1160px;text-align:center;top:388px;font-size:23.8px;">Temperatura (°C)</div>
<div class="t" style="left:0;width:1156px;text-align:center;top:648px;font-size:23.8px;">Količina padavin (mm) / Možnost padavin (%)</div>
<div class="t b" style="left:750px;top:469px;font-size:18px;transform:scaleX(1.068);transform-origin:0 0;">© vreme.us &amp; vreme.pro</div>
</body></html>
